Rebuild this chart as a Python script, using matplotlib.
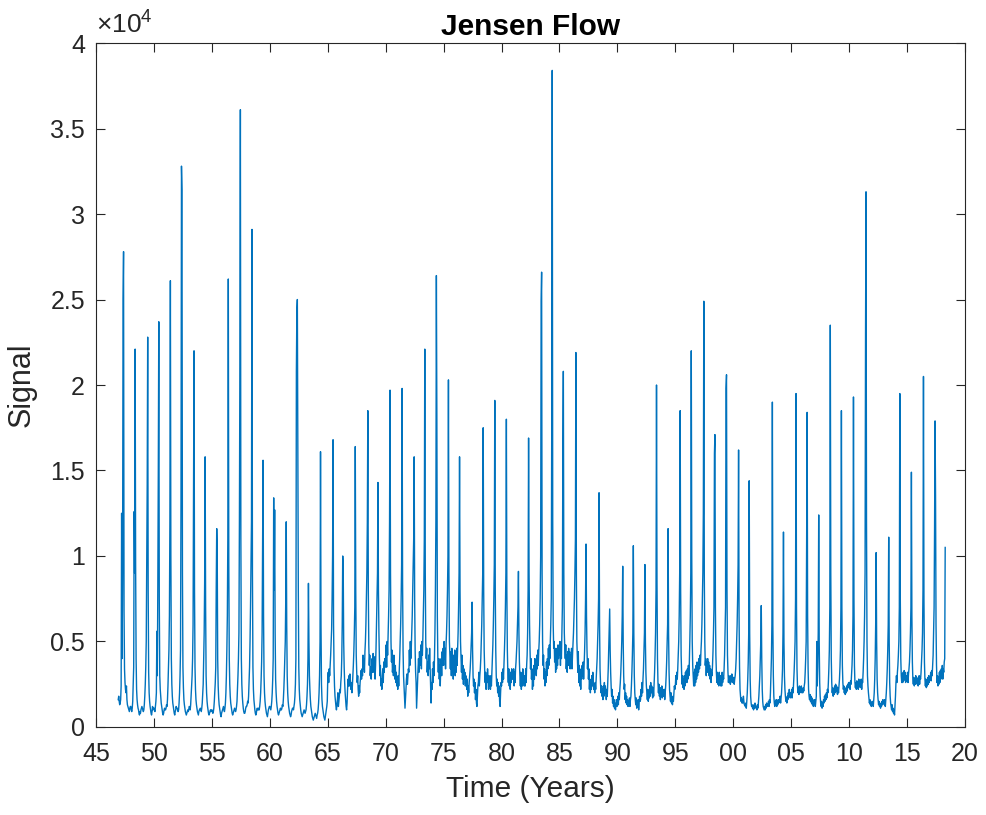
import numpy as np
import matplotlib
matplotlib.use("Agg")
import matplotlib.pyplot as plt
from matplotlib.ticker import FixedLocator, FuncFormatter

plt.rcParams["font.family"] = ["Liberation Sans", "DejaVu Sans"]
plt.rcParams["mathtext.fontset"] = "custom"
plt.rcParams["mathtext.rm"] = "Liberation Sans"
plt.rcParams["mathtext.it"] = "Liberation Sans:italic"

# flow in thousands, semi-monthly samples (24 per year)
# Nov-Dec 1946 (first samples of the record)
start_1946 = [1.6, 1.8]

flow_1940s = [
    [1.5, 1.3, 1.4, 1.6, 2.4, 12.5, 4.0, 9.0, 25.0, 27.8, 6.8, 3.4, 2.6, 2.2, 2.0, 2.4, 1.6, 1.3, 1.2, 1.1, 1.0, 0.9, 1.1, 1.2],
    [1.2, 1.0, 0.9, 1.1, 1.5, 2.5, 3.5, 12.6, 9.0, 22.1, 9.5, 4.0, 2.2, 1.6, 1.3, 1.1, 1.0, 0.8, 0.7, 0.9, 0.8, 1.0, 1.1, 1.2],
    [1.1, 1.0, 0.9, 1.0, 1.3, 1.8, 2.5, 3.5, 5.0, 9.5, 14.2, 22.8, 8.0, 3.2, 2.0, 1.5, 1.2, 1.0, 0.8, 0.7, 0.9, 1.2, 1.0, 1.1],
]

flow_1950s = [
    [1.1, 1.0, 0.9, 1.2, 1.5, 2.0, 5.6, 3.0, 8.3, 15.0, 23.7, 7.5, 3.0, 2.2, 1.8, 1.4, 1.2, 1.0, 0.8, 0.7, 0.8, 1.0, 1.1, 1.0],
    [1.0, 1.1, 1.3, 1.2, 1.6, 2.4, 3.5, 4.5, 6.5, 12.0, 26.1, 10.0, 4.0, 2.5, 1.8, 1.4, 1.2, 1.0, 0.8, 0.7, 0.9, 1.0, 1.2, 1.1],
    [1.1, 1.0, 0.9, 1.0, 1.4, 2.0, 3.0, 4.5, 13.3, 32.8, 31.4, 9.0, 3.5, 2.3, 1.6, 1.3, 1.1, 0.9, 0.8, 0.7, 0.8, 0.9, 1.0, 0.9],
    [1.0, 1.2, 1.1, 1.0, 1.3, 1.8, 2.4, 3.0, 4.0, 6.0, 13.7, 22.0, 8.0, 3.5, 2.2, 1.6, 1.3, 1.1, 0.9, 0.8, 0.7, 0.9, 1.0, 1.0],
    [1.1, 1.0, 0.9, 1.1, 1.4, 1.9, 2.5, 4.0, 5.5, 8.5, 15.8, 7.0, 3.0, 2.0, 1.5, 1.2, 1.0, 0.8, 0.7, 0.8, 0.9, 1.0, 0.9, 1.0],
    [1.0, 0.9, 0.8, 0.9, 1.1, 1.5, 2.0, 2.6, 3.5, 8.2, 11.6, 10.4, 4.0, 2.4, 1.7, 1.3, 1.1, 0.9, 0.7, 0.6, 0.8, 0.9, 1.0, 1.1],
    [1.2, 1.0, 0.9, 1.1, 1.4, 2.0, 3.0, 4.5, 6.5, 11.0, 26.2, 9.5, 4.0, 2.5, 1.8, 1.4, 1.2, 1.0, 0.8, 0.7, 0.8, 0.9, 1.0, 1.1],
    [1.0, 0.9, 1.0, 1.2, 1.5, 2.2, 3.0, 4.0, 5.5, 12.0, 21.2, 36.1, 11.0, 4.0, 2.5, 1.8, 1.4, 1.1, 0.9, 0.8, 0.8, 0.9, 1.1, 1.2],
    [1.2, 1.3, 1.5, 1.4, 1.8, 2.6, 3.5, 5.0, 7.0, 9.5, 12.0, 29.1, 9.0, 3.5, 2.2, 1.6, 1.3, 1.0, 0.8, 0.7, 0.8, 1.0, 1.1, 1.0],
    [1.0, 1.1, 1.0, 1.2, 1.5, 2.0, 2.8, 3.8, 5.5, 10.5, 15.6, 6.5, 3.0, 2.0, 1.5, 1.2, 1.0, 0.8, 0.7, 0.6, 0.8, 1.0, 1.1, 1.2],
]

flow_1960s = [
    [1.2, 1.1, 1.0, 1.2, 1.5, 2.0, 2.8, 4.0, 13.4, 8.0, 12.7, 5.5, 2.8, 2.0, 1.5, 1.2, 1.0, 0.8, 0.7, 0.8, 0.9, 1.0, 1.1, 1.0],
    [1.0, 1.1, 1.3, 1.2, 1.6, 2.2, 3.0, 4.0, 5.0, 7.5, 12.0, 6.0, 3.0, 2.0, 1.5, 1.2, 1.0, 0.8, 0.7, 0.6, 0.7, 0.9, 1.0, 1.1],
    [1.1, 1.0, 1.2, 1.4, 1.8, 2.5, 4.0, 20.8, 24.3, 25.0, 16.0, 8.0, 3.5, 2.2, 1.6, 1.3, 1.0, 0.8, 0.7, 0.6, 0.7, 0.8, 0.9, 1.0],
    [0.9, 0.8, 0.9, 1.0, 1.3, 1.8, 2.5, 4.0, 8.4, 5.0, 3.0, 2.2, 1.6, 1.2, 1.0, 0.8, 0.6, 0.5, 0.4, 0.5, 0.6, 0.7, 0.8, 0.7],
    [0.6, 0.5, 0.7, 0.8, 1.0, 1.4, 2.0, 3.0, 5.0, 16.1, 6.0, 2.5, 1.6, 1.2, 1.0, 0.8, 0.6, 0.5, 0.4, 0.6, 0.8, 1.0, 1.2, 1.5],
    [2.8, 3.2, 2.6, 3.4, 3.0, 3.6, 4.2, 5.0, 5.7, 7.5, 10.0, 16.8, 6.0, 3.5, 2.4, 1.8, 1.5, 1.2, 1.0, 1.3, 1.6, 2.0, 1.2, 1.5],
    [1.8, 2.2, 2.0, 2.6, 3.0, 4.0, 6.0, 10.0, 9.4, 5.0, 3.5, 2.6, 2.0, 1.6, 1.2, 1.0, 1.4, 2.2, 2.8, 2.4, 3.0, 2.4, 3.1, 2.6],
    [2.2, 2.6, 2.0, 2.4, 3.0, 3.6, 4.4, 5.5, 7.0, 16.4, 8.0, 4.2, 3.2, 2.6, 3.0, 2.2, 1.8, 2.4, 2.0, 2.6, 2.9, 3.3, 2.8, 3.4],
    [3.0, 4.2, 3.4, 4.0, 3.2, 4.4, 5.0, 6.0, 7.5, 9.0, 12.0, 18.5, 8.0, 4.8, 3.6, 4.2, 3.0, 3.5, 2.8, 3.6, 4.0, 3.2, 4.3, 3.6],
    [3.2, 4.1, 2.8, 3.6, 4.6, 6.0, 7.5, 9.0, 14.3, 8.0, 5.5, 4.0, 3.0, 3.6, 2.4, 2.8, 2.2, 3.0, 3.4, 2.6, 3.8, 3.2, 4.0, 3.5],
]

flow_1970s = [
    [4.0, 4.8, 3.5, 5.0, 4.2, 5.3, 6.5, 8.0, 12.0, 19.7, 9.0, 5.0, 3.8, 4.5, 3.2, 3.6, 3.0, 4.2, 3.4, 2.8, 3.6, 2.6, 3.2, 2.4],
    [2.8, 2.2, 3.0, 2.4, 3.2, 4.0, 5.0, 6.0, 7.5, 9.5, 19.8, 8.5, 4.5, 3.0, 2.4, 1.8, 1.1, 1.6, 2.2, 2.8, 3.1, 2.5, 3.0, 3.4],
    [3.2, 4.5, 3.6, 5.0, 4.0, 4.6, 5.5, 6.5, 8.0, 9.5, 11.0, 15.8, 7.5, 4.5, 3.2, 2.6, 1.1, 1.8, 2.6, 3.4, 4.0, 3.2, 4.4, 3.6],
    [4.0, 4.8, 3.4, 5.0, 4.2, 5.2, 6.5, 8.0, 11.0, 22.1, 9.0, 5.0, 4.0, 4.6, 3.2, 3.8, 3.0, 4.2, 3.4, 4.6, 3.6, 2.8, 1.4, 2.6],
    [2.2, 3.4, 2.6, 3.8, 3.0, 4.0, 5.5, 8.0, 12.0, 26.4, 18.2, 6.5, 4.0, 3.2, 4.0, 2.8, 3.6, 2.4, 3.4, 4.0, 3.0, 4.4, 3.6, 4.6],
    [3.6, 5.0, 4.0, 4.6, 3.4, 4.8, 5.5, 6.5, 8.0, 10.0, 20.3, 9.0, 5.0, 4.2, 3.4, 4.4, 3.0, 4.6, 3.2, 3.8, 2.8, 4.2, 3.4, 4.5],
    [3.0, 4.4, 3.2, 4.6, 3.6, 4.5, 5.5, 7.0, 9.0, 15.8, 8.0, 5.0, 4.0, 3.2, 4.2, 2.8, 3.6, 2.5, 3.4, 2.8, 3.2, 2.4, 3.0, 2.6],
    [2.2, 2.8, 1.8, 2.4, 2.0, 2.6, 3.0, 3.4, 4.0, 4.8, 5.5, 7.3, 4.5, 3.0, 2.4, 2.8, 2.0, 2.6, 1.6, 2.2, 1.4, 1.2, 1.8, 2.4],
    [2.6, 3.2, 2.4, 3.0, 3.4, 4.0, 5.0, 6.0, 7.5, 9.0, 17.5, 8.0, 4.5, 3.4, 2.6, 3.2, 2.2, 3.0, 2.6, 3.4, 2.8, 2.2, 3.0, 2.4],
    [2.8, 2.2, 3.0, 2.4, 3.2, 4.0, 4.8, 6.0, 7.5, 9.5, 19.1, 8.0, 4.5, 3.0, 2.4, 2.8, 2.0, 2.6, 1.8, 2.4, 1.5, 1.2, 2.0, 2.6],
]

flow_1980s = [
    [2.4, 3.2, 2.6, 3.4, 2.8, 3.6, 4.5, 5.5, 7.0, 9.0, 18.0, 8.0, 4.5, 3.2, 2.6, 3.4, 2.4, 3.0, 2.2, 3.2, 2.6, 3.4, 2.8, 3.2],
    [2.8, 3.4, 2.4, 3.2, 2.6, 3.4, 3.8, 4.4, 5.0, 6.0, 7.0, 9.1, 5.5, 3.8, 3.0, 2.4, 3.2, 2.2, 2.8, 2.4, 3.4, 2.6, 3.0, 2.4],
    [3.0, 2.4, 3.4, 2.6, 3.6, 4.2, 5.5, 8.0, 16.9, 9.0, 6.0, 4.5, 3.4, 4.0, 2.8, 3.4, 2.2, 3.0, 2.4, 3.6, 2.8, 4.0, 3.2, 3.8],
    [3.0, 4.2, 3.4, 4.5, 3.6, 4.4, 5.0, 6.0, 7.5, 10.0, 24.9, 26.6, 9.0, 5.0, 3.6, 4.2, 2.8, 3.4, 2.4, 3.2, 2.6, 3.8, 3.0, 4.0],
    [3.4, 4.6, 3.6, 4.8, 4.0, 5.0, 6.0, 7.5, 18.0, 38.4, 12.0, 6.0, 4.6, 5.0, 3.8, 4.6, 3.2, 4.4, 3.4, 4.6, 3.6, 4.8, 4.0, 4.6],
    [4.2, 5.0, 3.6, 4.8, 4.0, 5.5, 7.0, 16.5, 20.8, 9.0, 5.5, 4.6, 4.0, 4.8, 3.4, 4.2, 3.2, 4.4, 3.6, 4.6, 3.8, 4.4, 3.4, 4.2],
    [3.6, 4.6, 3.4, 4.2, 4.8, 5.5, 6.5, 7.5, 9.0, 11.0, 21.9, 9.0, 5.0, 4.0, 3.2, 4.4, 2.6, 3.6, 2.4, 3.2, 2.2, 3.4, 2.8, 3.6],
    [3.0, 3.8, 2.8, 3.6, 4.4, 5.5, 7.5, 10.7, 6.5, 4.5, 3.4, 4.0, 2.8, 3.4, 2.2, 2.8, 2.0, 2.6, 2.2, 3.0, 2.4, 3.2, 2.6, 2.2],
    [2.4, 2.0, 2.6, 2.2, 2.8, 3.4, 4.0, 5.0, 6.0, 7.5, 13.7, 6.0, 3.4, 2.6, 2.0, 2.4, 1.8, 2.2, 1.6, 2.4, 1.8, 2.6, 2.0, 2.4],
    [2.0, 1.6, 2.2, 1.8, 2.6, 3.4, 4.5, 5.5, 6.9, 4.5, 3.2, 2.4, 1.8, 2.2, 1.4, 1.8, 1.2, 1.6, 1.1, 1.4, 1.0, 1.3, 1.6, 1.2],
]

flow_1990s = [
    [1.4, 1.8, 1.3, 2.0, 1.6, 2.2, 2.6, 3.2, 4.0, 5.0, 6.5, 9.4, 5.0, 3.0, 2.2, 2.5, 1.6, 2.0, 1.4, 1.8, 1.3, 1.6, 1.2, 1.5],
    [1.4, 1.7, 1.2, 1.6, 1.8, 2.4, 3.2, 4.2, 5.5, 10.6, 5.5, 3.0, 2.0, 1.6, 1.3, 1.7, 1.1, 1.5, 1.2, 1.6, 1.0, 1.4, 1.8, 1.5],
    [1.6, 2.2, 1.8, 2.6, 2.0, 2.8, 3.4, 4.4, 5.5, 9.5, 5.0, 3.2, 2.4, 2.0, 1.6, 2.2, 1.5, 2.0, 1.7, 2.4, 1.8, 2.6, 2.0, 2.4],
    [2.0, 1.7, 2.3, 1.8, 2.5, 3.2, 4.2, 5.5, 8.0, 20.0, 8.5, 4.0, 2.6, 2.0, 2.5, 1.8, 2.2, 1.6, 2.3, 1.8, 2.4, 1.7, 2.2, 1.9],
    [1.8, 2.2, 1.6, 2.0, 2.4, 3.0, 3.8, 4.8, 6.0, 11.6, 5.5, 3.2, 2.2, 1.8, 1.5, 2.0, 1.4, 1.8, 1.3, 1.7, 1.5, 2.0, 2.4, 2.2],
    [2.4, 3.0, 2.5, 3.2, 2.8, 3.4, 4.2, 5.0, 6.5, 9.0, 18.5, 8.0, 4.2, 3.2, 2.5, 3.0, 2.3, 2.8, 2.2, 3.0, 2.4, 3.2, 2.6, 3.3],
    [2.6, 3.4, 2.8, 3.6, 3.0, 3.8, 5.0, 6.5, 9.0, 22.0, 10.0, 5.0, 3.6, 3.0, 2.4, 3.2, 2.4, 3.4, 2.6, 3.6, 2.8, 3.8, 3.0, 3.6],
    [3.2, 4.0, 3.4, 4.2, 3.6, 4.4, 5.0, 6.0, 7.5, 9.0, 12.5, 24.9, 8.9, 5.0, 3.6, 4.0, 3.0, 3.8, 3.2, 4.0, 3.4, 3.8, 3.0, 3.6],
    [2.8, 3.4, 2.6, 3.2, 3.0, 3.6, 4.4, 5.5, 7.0, 16.0, 17.1, 7.0, 4.2, 3.2, 2.6, 3.2, 2.5, 3.0, 2.4, 3.2, 2.6, 3.0, 2.4, 3.0],
    [2.4, 3.2, 2.6, 3.0, 2.8, 3.4, 4.2, 5.5, 7.0, 19.8, 20.6, 8.0, 4.2, 3.2, 2.6, 3.0, 2.6, 2.9, 2.5, 3.0, 2.7, 3.1, 2.6, 2.9],
]

flow_2000s = [
    [2.6, 2.9, 2.5, 2.8, 3.0, 3.4, 4.0, 5.0, 6.0, 7.5, 9.5, 16.2, 6.5, 3.5, 2.2, 1.8, 1.5, 1.7, 1.4, 1.6, 1.4, 1.8, 1.5, 1.3],
    [1.3, 1.2, 1.4, 1.1, 1.5, 2.0, 2.8, 3.8, 5.5, 14.4, 5.5, 2.8, 1.8, 1.4, 1.2, 1.3, 1.1, 1.2, 1.0, 1.3, 1.1, 1.4, 1.2, 1.1],
    [1.2, 1.0, 1.3, 1.1, 1.4, 1.8, 2.4, 3.0, 4.0, 5.0, 7.1, 4.0, 2.2, 1.5, 1.2, 1.1, 1.0, 1.2, 1.0, 1.3, 1.1, 1.4, 1.2, 1.3],
    [1.3, 1.5, 1.2, 1.6, 1.4, 2.0, 3.0, 4.0, 6.0, 19.0, 6.0, 3.0, 1.8, 1.4, 1.2, 1.5, 1.3, 1.6, 1.2, 1.5, 1.3, 1.6, 1.4, 1.5],
    [1.5, 1.8, 1.4, 1.7, 2.0, 2.6, 3.4, 5.5, 11.4, 5.0, 3.0, 2.2, 1.8, 1.5, 1.7, 1.4, 1.8, 1.6, 2.0, 1.7, 2.2, 1.8, 2.0, 1.7],
    [1.8, 2.2, 1.7, 2.3, 2.0, 2.6, 3.2, 4.0, 5.0, 7.5, 19.5, 7.0, 3.4, 2.4, 2.0, 2.3, 1.9, 2.4, 2.0, 2.3, 2.1, 2.4, 2.0, 2.2],
    [2.0, 2.3, 2.1, 2.4, 2.6, 3.2, 4.0, 5.0, 11.0, 18.4, 6.5, 3.4, 2.2, 1.8, 1.6, 1.9, 1.5, 1.8, 1.4, 1.7, 1.3, 1.6, 1.2, 1.5],
    [1.4, 1.6, 1.2, 1.5, 1.8, 5.0, 2.4, 3.5, 5.5, 12.4, 5.0, 2.6, 1.8, 1.4, 1.2, 1.5, 1.1, 1.4, 1.2, 1.6, 1.4, 1.8, 1.5, 1.9],
    [1.6, 2.0, 1.7, 2.2, 2.0, 2.6, 3.4, 4.5, 7.0, 23.5, 9.0, 4.0, 2.6, 2.0, 2.3, 1.8, 2.2, 1.9, 2.4, 2.0, 2.5, 2.1, 2.4, 2.0],
    [1.9, 2.3, 2.0, 2.4, 2.8, 3.5, 4.5, 7.0, 18.5, 7.0, 3.6, 2.6, 2.2, 2.4, 2.0, 2.3, 1.9, 2.2, 2.0, 2.4, 2.1, 2.5, 2.3, 2.6],
]

# 2010-2017 full years, 2018 through April
flow_2010s = [
    [2.3, 2.6, 2.2, 2.7, 2.5, 3.0, 3.6, 4.5, 6.5, 19.3, 7.5, 3.6, 2.6, 2.3, 2.6, 2.2, 2.7, 2.3, 2.6, 2.2, 2.8, 2.4, 2.7, 2.3],
    [2.4, 2.8, 2.2, 2.7, 2.6, 3.2, 4.0, 5.0, 6.5, 9.0, 23.0, 31.3, 12.0, 5.0, 3.0, 2.4, 2.0, 1.7, 1.4, 1.6, 1.3, 1.5, 1.2, 1.4],
    [1.3, 1.5, 1.2, 1.6, 2.0, 2.8, 4.0, 6.0, 10.2, 5.0, 2.8, 2.0, 1.6, 1.3, 1.5, 1.2, 1.4, 1.1, 1.3, 1.2, 1.5, 1.3, 1.6, 1.4],
    [1.5, 1.3, 1.6, 1.2, 1.6, 2.0, 2.6, 3.4, 4.5, 6.0, 11.1, 5.0, 2.6, 1.8, 1.4, 1.2, 1.0, 1.3, 0.9, 1.1, 0.8, 1.0, 0.7, 1.2],
    [1.8, 2.6, 3.0, 2.6, 3.2, 3.6, 4.2, 5.0, 7.0, 19.5, 7.5, 4.0, 3.0, 2.6, 3.1, 2.6, 3.2, 2.7, 3.3, 2.8, 3.2, 2.6, 3.0, 2.7],
    [2.8, 3.2, 2.6, 3.1, 3.4, 3.8, 4.5, 5.5, 7.0, 14.9, 6.5, 3.8, 2.8, 2.5, 2.9, 2.4, 2.8, 2.5, 3.0, 2.6, 2.9, 2.5, 2.8, 2.4],
    [2.6, 3.0, 2.5, 2.9, 2.8, 3.2, 3.8, 4.5, 5.5, 8.0, 20.5, 7.5, 3.8, 2.8, 2.4, 2.8, 2.3, 2.7, 2.4, 2.9, 2.5, 3.0, 2.6, 2.9],
    [2.8, 3.2, 2.7, 3.3, 3.0, 3.6, 4.2, 5.5, 7.0, 11.7, 17.9, 13.5, 6.0, 3.6, 2.6, 3.0, 2.4, 2.9, 2.5, 3.2, 2.6, 3.3, 2.8, 3.4],
    [3.0, 3.6, 2.8, 3.4, 3.2, 3.8, 4.0, 10.5],
]

x_ticks = list(range(45, 121, 5))
y_ticks = [0, 5000, 10000, 15000, 20000, 25000, 30000, 35000, 40000]


def build_series():
    t, q = [], []
    for k, v in enumerate(start_1946):
        t.append(46 + (22 + k) / 24)
        q.append(v)
    for first_year, rows in [(47, flow_1940s), (50, flow_1950s), (60, flow_1960s),
                             (70, flow_1970s), (80, flow_1980s), (90, flow_1990s),
                             (100, flow_2000s), (110, flow_2010s)]:
        for i, row in enumerate(rows):
            for k, v in enumerate(row):
                t.append(first_year + i + k / 24)
                q.append(v)
    return np.array(t), np.array(q) * 1000


def main():
    t, q = build_series()

    fig = plt.figure(figsize=(9.87, 8.15), dpi=100)
    ax = fig.add_axes([0.0973, 0.108, 0.8804, 0.8392])
    ax.plot(t, q, color="#0072BD", lw=1.0)

    ax.set_xlim(45, 120)
    ax.set_ylim(0, 40000)
    ax.xaxis.set_major_locator(FixedLocator(x_ticks))
    ax.xaxis.set_major_formatter(FuncFormatter(lambda v, p: "%02d" % (int(round(v)) % 100)))
    ax.yaxis.set_major_locator(FixedLocator(y_ticks))
    ax.yaxis.set_major_formatter(FuncFormatter(lambda v, p: "%g" % (v / 10000)))

    dark = "#262626"
    ax.tick_params(direction="in", length=6.3, width=0.8, top=True, right=True,
                   labelsize=18, colors=dark)
    ax.tick_params(axis="x", pad=11)
    ax.tick_params(axis="y", pad=8)
    for s in ax.spines.values():
        s.set_color(dark)
        s.set_linewidth(0.8)

    ax.set_xlabel("Time (Years)", fontsize=21.5, color=dark, labelpad=6)
    ax.set_ylabel("Signal", fontsize=22, color=dark, labelpad=10)
    ax.set_title("Jensen Flow", fontsize=21.5, fontweight="bold", pad=6)
    ax.text(0.0, 1.006, r"$\times10^{4}$", transform=ax.transAxes, fontsize=19,
            color=dark, ha="left", va="bottom")

    fig.savefig("out.png", dpi=100)


if __name__ == "__main__":
    main()
